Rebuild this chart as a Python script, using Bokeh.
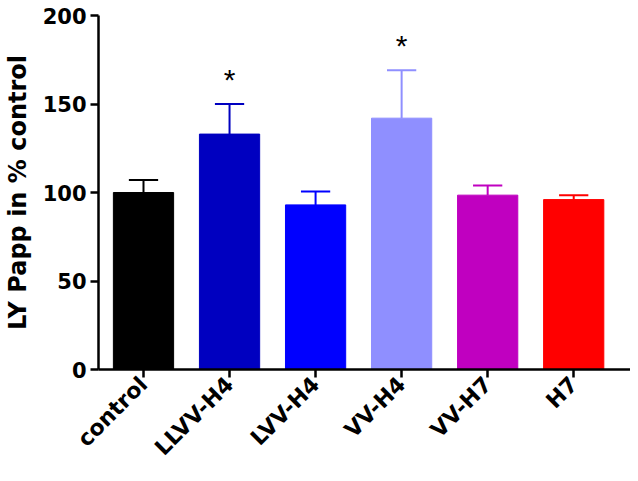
import math
from bokeh.plotting import figure
from bokeh.models import ColumnDataSource, Range1d, FixedTicker
from bokeh.core.properties import value
from bokeh.embed import file_html
from bokeh.resources import INLINE

categories = ["control", "LLVV-H4", "LVV-H4", "VV-H4", "VV-H7", "H7"]
means = [100, 133, 93, 142, 98.5, 96]
err_top = [107, 150, 100.5, 169, 104, 98.5]
colors = ["#000000", "#0000C0", "#0000FF", "#8F8FFF", "#C000C0", "#FF0000"]
significant = [False, True, False, True, False, False]
y_ticks = [0, 50, 100, 150, 200]

FONT = "DejaVu Sans"

xs = list(range(len(categories)))
src = ColumnDataSource(dict(x=xs, top=means, err=err_top, color=colors,
                            cl=[x - 0.17 for x in xs], cr=[x + 0.17 for x in xs]))

p = figure(width=630, height=473, output_backend="svg", toolbar_location=None,
           x_range=Range1d(-0.523, 5.66), y_range=Range1d(0, 200),
           min_border_left=98, min_border_top=15, min_border_bottom=104, min_border_right=0)
p.outline_line_color = None
p.xgrid.visible = False
p.ygrid.visible = False

p.segment(x0="x", y0="top", x1="x", y1="err", color="color", line_width=2, source=src)
p.segment(x0="cl", y0="err", x1="cr", y1="err", color="color", line_width=2, source=src)
p.vbar(x="x", top="top", bottom=0, width=0.70, fill_color="color", line_color="color", source=src)

sx = [x for x, s in zip(xs, significant) if s]
sy = [e + 14 for e, s in zip(err_top, significant) if s]
p.text(x=sx, y=sy, text=["*"] * len(sx), text_align="center", text_baseline="middle",
       text_font=value("Liberation Sans"), text_font_size="30px", text_color="black")

for ax in (p.xaxis[0], p.yaxis[0]):
    ax.axis_line_width = 2.5
    ax.axis_line_color = "black"
    ax.major_tick_line_width = 2.5
    ax.major_tick_line_color = "black"
    ax.major_tick_out = 8
    ax.major_tick_in = 0
    ax.minor_tick_line_color = None
    ax.major_label_text_font = FONT
    ax.major_label_text_font_style = "bold"
    ax.major_label_text_color = "black"

p.xaxis.ticker = FixedTicker(ticks=xs)
p.xaxis.major_label_overrides = {i: c for i, c in enumerate(categories)}
p.xaxis.major_label_orientation = math.pi / 4
p.xaxis.major_label_text_font_size = "22px"
p.xaxis.major_label_standoff = 3

p.yaxis.ticker = FixedTicker(ticks=y_ticks)
p.yaxis.major_label_text_font_size = "21px"
p.yaxis.major_label_standoff = 4
p.yaxis.axis_label = "LY Papp in % control"
p.yaxis.axis_label_text_font = FONT
p.yaxis.axis_label_text_font_style = "bold"
p.yaxis.axis_label_text_font_size = "24px"
p.yaxis.axis_label_text_color = "black"
p.yaxis.axis_label_standoff = 8

open("out.html", "w").write(file_html(p, INLINE))
